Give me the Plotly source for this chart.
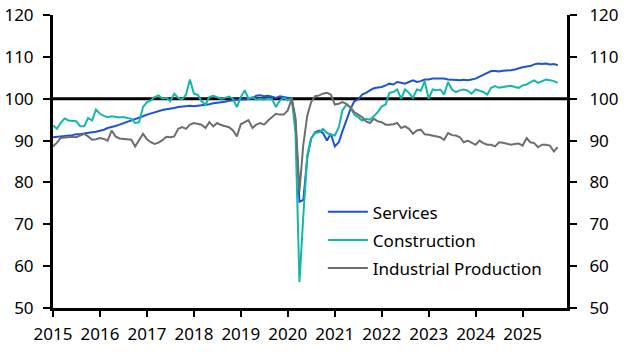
import pandas as pd
import plotly.graph_objects as go

start_month = "2015-01-01"

services = [
    90.8, 90.9, 91.0, 91.0, 91.1, 91.3, 91.5, 91.5, 91.7, 91.9,
    92.0, 92.1, 92.3, 92.6, 93.0, 93.2, 93.5, 93.8, 94.1, 94.6,
    94.9, 95.1, 95.4, 95.8, 96.2, 96.5, 96.8, 97.1, 97.3, 97.5,
    97.6, 97.8, 98.0, 98.1, 98.3, 98.3, 98.2, 98.3, 98.5, 98.6,
    98.7, 98.9, 99.0, 99.2, 99.3, 99.5, 99.6, 99.8, 99.8, 99.8,
    99.9, 100.1, 100.7, 100.8, 100.6, 100.7, 100.5, 100.2, 100.6, 100.4,
    100.1, 100.0, 94.5, 75.4, 75.8, 86.0, 90.5, 92.0, 92.4, 91.8,
    90.0, 91.6, 88.6, 89.6, 92.2, 94.8, 97.4, 99.4, 99.8, 101.0,
    101.4, 102.0, 102.5, 102.7, 102.8, 103.2, 103.6, 103.4, 104.0, 103.8,
    103.6, 104.0, 104.4, 104.0, 104.2, 104.6, 104.6, 104.8, 104.8, 104.7,
    104.8, 104.6, 104.5, 104.4, 104.4, 104.5, 104.4, 104.6, 104.8, 105.3,
    105.7, 106.2, 106.6, 106.6, 106.5, 106.7, 106.7, 106.8, 107.0, 107.3,
    107.5, 107.7, 107.8, 108.2, 108.4, 108.3, 108.4, 108.2, 108.3, 108.0,
]

construction = [
    93.6, 92.8, 94.2, 95.3, 94.8, 94.7, 94.6, 93.4, 93.4, 95.4,
    94.8, 97.4, 96.4, 95.9, 95.6, 95.8, 95.7, 95.5, 95.6, 95.4,
    95.2, 94.2, 94.4, 98.0, 99.2, 99.6, 100.4, 100.8, 100.0, 100.2,
    99.4, 101.2, 100.2, 99.8, 101.0, 104.6, 101.2, 100.9, 99.4, 98.6,
    100.4, 100.7, 100.3, 100.0, 100.2, 100.5, 100.0, 98.0, 100.4, 102.0,
    100.0, 100.4, 99.8, 99.9, 99.8, 100.0, 99.9, 98.0, 99.6, 100.2,
    99.6, 100.0, 92.0, 56.2, 72.0, 86.5, 90.5, 91.8, 92.0, 92.8,
    91.8, 91.4, 91.2, 93.2, 97.2, 98.6, 98.0, 96.2, 95.6, 94.8,
    95.2, 95.0, 95.8, 96.8, 98.2, 98.6, 101.4, 101.6, 102.2, 100.0,
    102.2, 101.4, 100.2, 102.2, 101.9, 104.2, 100.0, 102.2, 102.0, 102.2,
    101.0, 104.0, 102.2, 101.6, 102.0, 102.2, 101.9, 101.2, 102.2, 101.9,
    101.6, 101.0, 102.6, 103.0, 102.6, 102.8, 102.9, 103.1, 102.8, 102.6,
    103.2, 103.4, 103.9, 104.4, 103.8, 104.2, 104.6, 104.4, 104.2, 103.8,
]

industrial = [
    88.6, 89.5, 90.6, 90.7, 90.9, 90.9, 90.8, 91.3, 91.6, 91.0,
    90.2, 90.3, 90.6, 90.4, 90.0, 92.4, 91.0, 90.5, 90.4, 90.4,
    90.2, 88.6, 90.3, 91.6, 90.3, 89.6, 89.2, 89.5, 90.1, 90.9,
    90.8, 91.0, 92.8, 93.2, 92.8, 93.8, 94.2, 94.0, 93.8, 93.0,
    94.4, 93.4, 94.2, 93.7, 93.4, 93.2, 92.4, 91.0, 93.9, 94.5,
    94.9, 93.0, 93.8, 94.2, 93.8, 94.8, 95.6, 96.4, 96.2, 96.2,
    97.2, 100.0, 95.5, 78.0, 89.0, 96.0, 99.2, 100.6, 100.8, 101.2,
    101.4, 101.0, 98.6, 98.8, 99.2, 98.8, 98.0, 96.8, 96.2, 95.6,
    94.6, 94.2, 95.2, 94.6, 94.4, 93.8, 93.8, 93.9, 94.2, 93.0,
    93.4, 92.8, 91.6, 92.4, 92.6, 91.5, 91.4, 91.2, 91.0, 90.8,
    90.2, 91.8, 91.3, 91.2, 90.8, 89.6, 90.0, 89.6, 89.0, 90.0,
    89.4, 89.0, 89.0, 88.6, 89.6, 89.5, 89.3, 89.0, 89.2, 89.3,
    88.8, 90.6, 89.6, 89.4, 88.4, 89.0, 89.0, 88.8, 87.4, 88.4,
]

series_names = ["Services", "Construction", "Industrial Production"]
series_colors = ["#1F52D6", "#14B8A6", "#6E6E6E"]
year_ticks = [str(y) for y in range(2015, 2026)]
y_ticks = [50, 60, 70, 80, 90, 100, 110, 120]
baseline = 100

FONT = "Noto Sans"

fig = go.Figure()
for name, vals, col in zip(series_names, [services, construction, industrial], series_colors):
    dates = pd.date_range(start_month, periods=len(vals), freq="MS")
    fig.add_trace(go.Scatter(x=dates, y=vals, mode="lines", name=name,
                             legendgroup=name,
                             line=dict(color=col, width=2)))

# invisible trace to carry right axis
dates = pd.date_range(start_month, periods=len(services), freq="MS")
fig.add_trace(go.Scatter(x=dates, y=services, yaxis="y2", mode="lines",
                         line=dict(color="rgba(0,0,0,0)", width=0),
                         showlegend=False, hoverinfo="skip"))

fig.add_hline(y=baseline, line=dict(color="black", width=3), layer="below")

axis_common = dict(range=[50, 120], tickvals=y_ticks, showgrid=False, zeroline=False,
                   showline=True, linecolor="black", linewidth=3, automargin=False,
                   ticks="outside", ticklen=7, tickwidth=2, tickcolor="black",
                   tickfont=dict(family=FONT, size=17, color="black"))

fig.update_layout(
    width=627, height=352,
    margin=dict(l=53, r=60, t=15, b=44),
    paper_bgcolor="white", plot_bgcolor="white",
    showlegend=True,
    legend=dict(x=0.525, y=0.388, xanchor="left", yanchor="top",
                bgcolor="rgba(0,0,0,0)", borderwidth=0,
                font=dict(family=FONT, size=17, color="black"),
                tracegroupgap=3, itemwidth=40),
    xaxis=dict(range=["2015-01-01", "2025-12-12"], automargin=False,
               tickvals=[f"{y}-01-01" for y in year_ticks], ticktext=year_ticks,
               showgrid=False, zeroline=False, showline=True, linecolor="black", linewidth=3,
               ticks="outside", ticklen=6, tickwidth=2, tickcolor="black",
               ticklabelstandoff=3,
               tickfont=dict(family=FONT, size=17, color="black")),
    yaxis=dict(side="left", ticklabelstandoff=6, **axis_common),
    yaxis2=dict(side="right", overlaying="y", ticklabelstandoff=9, **axis_common),
)

fig.write_html("out.html")
